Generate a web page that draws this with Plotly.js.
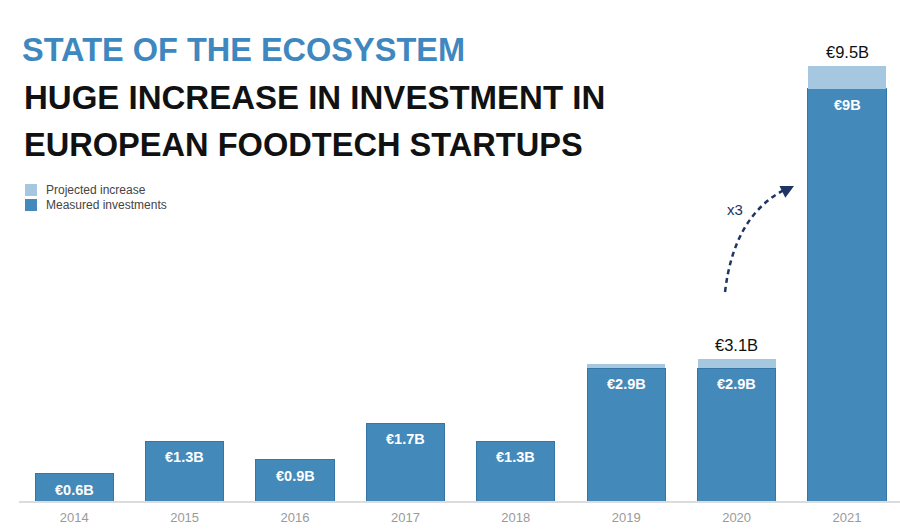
<!DOCTYPE html>
<html>
<head>
<meta charset="utf-8">
<script src="https://cdn.plot.ly/plotly-3.0.1.min.js"></script>
<style>html,body{margin:0;padding:0;background:#fff;}#chart{width:900px;height:532px;}</style>
</head>
<body>
<div id="chart"></div>
<script>
const years = ['2014','2015','2016','2017','2018','2019','2020','2021'];
const measured = [0.6, 1.3, 0.9, 1.7, 1.3, 2.9, 2.9, 9.0];
const projected = [0, 0, 0, 0, 0, 0.1, 0.2, 0.5];
const measuredLabels = ['€0.6B','€1.3B','€0.9B','€1.7B','€1.3B','€2.9B','€2.9B','€9B'];
const totalLabels = ['','','','','','','€3.1B','€9.5B'];
const seriesNames = ['Projected increase','Measured investments'];
const titleLines = ['STATE OF THE ECOSYSTEM','HUGE INCREASE IN INVESTMENT IN','EUROPEAN FOODTECH STARTUPS'];
const growthLabel = 'x3';

const FONT = 'Liberation Sans, Arial, Helvetica, sans-serif';
const C_MEAS = '#4389ba';
const C_PROJ = '#a6c7e0';
const C_NAVY = '#1d3563';

const traces = [
  {type:'bar', name:seriesNames[1], x:years, y:measured,
   marker:{color:C_MEAS, line:{color:'#3576a6', width:1}}, hoverinfo:'x+y'},
  {type:'bar', name:seriesNames[0], x:years, y:projected,
   marker:{color:C_PROJ, line:{width:0}}, hoverinfo:'x+y'}
];

const annotations = [];
const subSizes = [33, 32.6];
titleLines.slice(1).forEach((t,i)=>{
  annotations.push({xref:'paper', yref:'paper', x:0.0034, y:[0.8044,0.7106][i],
    xanchor:'left', yanchor:'middle', showarrow:false, text:t,
    font:{family:FONT, size:subSizes[i], color:'#111111', weight:'bold'}});
});
years.forEach((yr,i)=>{
  // category axis: position annotations by category index
  annotations.push({xref:'x', yref:'y', x:i, y:measured[i], text:measuredLabels[i], showarrow:false,
    yanchor:'top', yshift:-6, font:{family:FONT, size:14.5, color:'#ffffff', weight:'bold'}});
  if (totalLabels[i]) {
    annotations.push({xref:'x', yref:'y', x:i, y:measured[i]+projected[i], text:totalLabels[i], showarrow:false,
      yanchor:'bottom', yshift:3, font:{family:FONT, size:16.5, color:'#111111'}});
  }
});
// legend (manual)
const legendItems = [{name:seriesNames[0], color:C_PROJ, y0:0.6088, y1:0.6327, ty:0.6208},
                     {name:seriesNames[1], color:C_MEAS, y0:0.5788, y1:0.6028, ty:0.5908}];
const shapes = [];
legendItems.forEach(it=>{
  shapes.push({type:'rect', xref:'paper', yref:'paper', x0:0.0068, x1:0.0204, y0:it.y0, y1:it.y1,
    fillcolor:it.color, line:{width:0}});
  annotations.push({xref:'paper', yref:'paper', x:0.0284, y:it.ty, xanchor:'left', yanchor:'middle',
    showarrow:false, text:it.name, font:{family:FONT, size:12, color:'#444444'}});
});
// growth arrow
shapes.push({type:'path', xref:'paper', yref:'paper',
  path:'M0.8014,0.4172 Q0.8116,0.5709 0.8706,0.6228',
  line:{color:C_NAVY, width:2.5, dash:'5px,4px'}});
annotations.push({xref:'paper', yref:'paper', x:0.8797, y:0.6287, ax:-12, ay:6,
  axref:'pixel', ayref:'pixel', text:'', showarrow:true, arrowhead:2, arrowsize:1.3,
  arrowwidth:2, arrowcolor:C_NAVY, standoff:0});
annotations.push({xref:'paper', yref:'paper', x:0.8127, y:0.5828, text:growthLabel, showarrow:false,
  xanchor:'center', yanchor:'middle', font:{family:FONT, size:15, color:C_NAVY}});

const layout = {
  width:900, height:532,
  margin:{l:19, r:0, t:0, b:31},
  paper_bgcolor:'#ffffff', plot_bgcolor:'#ffffff',
  barmode:'stack', bargap:0.293,
  showlegend:false,
  title:{text:titleLines[0], x:22/900, xanchor:'left', y:1-50/532, yanchor:'middle',
    xref:'container', yref:'container',
    font:{family:FONT, size:32.5, color:'#3f88bf', weight:'bold'}},
  xaxis:{type:'category', range:[-0.5, 7.48], showgrid:false, zeroline:false,
    showline:true, linecolor:'#dcdcdc', linewidth:2, ticks:'', ticklabelstandoff:3,
    tickfont:{family:FONT, size:13, color:'#9a9a9a'}, fixedrange:true},
  yaxis:{range:[0, 10.94], visible:false, showgrid:false, zeroline:false, fixedrange:true},
  annotations:annotations,
  shapes:shapes,
  font:{family:FONT}
};
Plotly.newPlot('chart', traces, layout, {displayModeBar:false});
</script>
</body>
</html>
